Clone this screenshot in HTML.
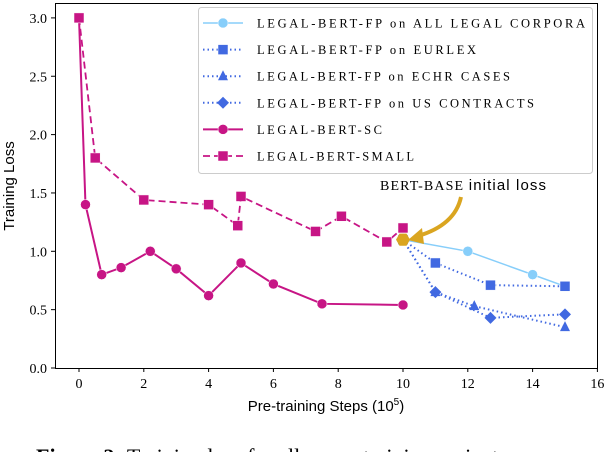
<!DOCTYPE html>
<html><head><meta charset="utf-8"><style>
body{margin:0;background:#fff;width:604px;height:452px;overflow:hidden}
svg text{font-family:"Liberation Serif",serif}
</style></head><body>
<svg id="chart" width="604" height="452" xmlns="http://www.w3.org/2000/svg">
<defs><clipPath id="pc"><rect x="55" y="3" width="543" height="365"/></clipPath></defs>
<g id="marks" clip-path="url(#pc)"></g>
<rect x="55.5" y="3.5" width="542" height="365" fill="none" stroke="#000" stroke-width="1"/>
<g id="axes"></g>
<text transform="translate(14,186) rotate(-90)" text-anchor="middle" font-size="15" style="font-family:'Liberation Sans',sans-serif">Training Loss</text>
<text x="326" y="411" text-anchor="middle" font-size="15" style="font-family:'Liberation Sans',sans-serif">Pre-training Steps (10<tspan font-size="10" dy="-6">5</tspan><tspan dy="6">)</tspan></text>
<g>
<text x="380" y="190" font-size="14" textLength="166" lengthAdjust="spacing">BERT-BASE <tspan style="font-family:'Liberation Sans',sans-serif" font-size="15">initial loss</tspan></text>
<path d="M461,197 Q455,225 418,236" fill="none" stroke="#DAA520" stroke-width="4"/>
<polygon points="408,240 422,228 424,244" fill="#DAA520"/>
</g>
<g id="legend">
<rect x="198.5" y="7.5" width="394" height="166" rx="3" fill="#fff" fill-opacity="0.85" stroke="#ccc"/>
</g>
<text x="36" y="464" font-size="22"><tspan font-weight="bold">Figure 2:</tspan> Training loss for all ... pre-training variants</text>
</svg>
<script>
const xs_sc=[0,0.2,0.7,1.3,2.2,3,4,5,6,7.5,10];
const ys_sc=[3.0,1.4,0.8,0.86,1.0,0.85,0.62,0.9,0.72,0.55,0.54];
const xs_small=[0,0.5,2,4,4.9,5,7.3,8.1,9.5,10];
const ys_small=[3.0,1.8,1.44,1.4,1.22,1.47,1.17,1.3,1.08,1.2];
const xs_all=[10,12,14,15];
const ys_all=[1.1,1.0,0.8,0.7];
const xs_eur=[10,11,12.7,15];
const ys_eur=[1.1,0.9,0.71,0.7];
const xs_echr=[10,11,12.2,15];
const ys_echr=[1.1,0.65,0.53,0.35];
const xs_us=[10,11,12.7,15];
const ys_us=[1.1,0.65,0.43,0.46];
const init_x=[10];
const init_y=[1.1];
const xticks=[0,2,4,6,8,10,12,14,16];
const yticks=[0.0,0.5,1.0,1.5,2.0,2.5,3.0];
const legendLabels=["LEGAL-BERT-FP on ALL LEGAL CORPORA","LEGAL-BERT-FP on EURLEX","LEGAL-BERT-FP on ECHR CASES","LEGAL-BERT-FP on US CONTRACTS","LEGAL-BERT-SC","LEGAL-BERT-SMALL"];
const legendWidths=[328,219,253,277,125,157];

const NS="http://www.w3.org/2000/svg";
const X=v=>79+32.4*v, Y=v=>368-116.7*v;
function el(t,a,p){const e=document.createElementNS(NS,t);for(const k in a)e.setAttribute(k,a[k]);p.appendChild(e);return e;}
function marker(g,type,cx,cy,col,s){
  if(type==='o') return el('circle',{cx,cy,r:s,fill:col,stroke:'#fff','stroke-width':0.5},g);
  if(type==='s') return el('rect',{x:cx-s,y:cy-s,width:2*s,height:2*s,fill:col,stroke:'#fff','stroke-width':0.5},g);
  if(type==='^') return el('polygon',{points:`${cx},${cy-s-1} ${cx-s},${cy+s-1} ${cx+s},${cy+s-1}`,fill:col},g);
  if(type==='D') return el('polygon',{points:`${cx},${cy-s-1} ${cx+s+1},${cy} ${cx},${cy+s+1} ${cx-s-1},${cy}`,fill:col},g);
  if(type==='h'){let p=[];for(let i=0;i<6;i++){const a=Math.PI/3*i;p.push((cx+s*Math.cos(a))+','+(cy+s*Math.sin(a)));}return el('polygon',{points:p.join(' '),fill:col},g);}
}
const series=[
 {name:'series-fp-all',xs:xs_all,ys:ys_all,col:'#87CEFA',dash:'',w:1.5,m:'o',s:5},
 {name:'series-fp-eurlex',xs:xs_eur,ys:ys_eur,col:'#4169E1',dash:'1.5 3',w:2,m:'s',s:5},
 {name:'series-fp-echr',xs:xs_echr,ys:ys_echr,col:'#4169E1',dash:'1.5 3',w:2,m:'^',s:5},
 {name:'series-fp-us',xs:xs_us,ys:ys_us,col:'#4169E1',dash:'1.5 3',w:2,m:'D',s:5},
 {name:'series-sc',xs:xs_sc,ys:ys_sc,col:'#C71585',dash:'',w:2,m:'o',s:5},
 {name:'series-small',xs:xs_small,ys:ys_small,col:'#C71585',dash:'7 4',w:1.8,m:'s',s:5}
];
const marks=document.getElementById('marks');
series.forEach(sr=>{
  const g=el('g',{},marks);
  
  
  el('polyline',{points:sr.xs.map((x,i)=>X(x)+','+Y(sr.ys[i])).join(' '),fill:'none',stroke:sr.col,'stroke-width':sr.w,'stroke-dasharray':sr.dash},g);
  sr.xs.forEach((x,i)=>{const m=marker(g,sr.m,X(x),Y(sr.ys[i]),sr.col,sr.s);
    
    });
});
const ig=el('g',{},marks);


init_x.forEach((x,i)=>marker(ig,'h',X(x),Y(init_y[i]),'#DAA520',7));

const ax=document.getElementById('axes');
xticks.forEach(t=>{
  const g=el('g',{},ax);
  
  
  el('line',{x1:X(t),x2:X(t),y1:368,y2:372,stroke:'#000'},g);
  const tx=el('text',{x:X(t),y:388,'text-anchor':'middle','font-size':14},g);tx.textContent=t;
});
yticks.forEach(t=>{
  const g=el('g',{},ax);
  
  
  el('line',{x1:51,x2:55,y1:Y(t),y2:Y(t),stroke:'#000'},g);
  const tx=el('text',{x:47,y:Y(t)+5,'text-anchor':'end','font-size':14},g);tx.textContent=t.toFixed(1);
});
const lg=document.getElementById('legend');
series.forEach((sr,i)=>{
  const y=23+26.6*i;
  const g=el('g',{},lg);
  
  
  el('line',{x1:203,x2:243,y1:y,y2:y,stroke:sr.col,'stroke-width':sr.w,'stroke-dasharray':sr.dash},g);
  marker(g,sr.m,223,y,sr.col,sr.s);
  const tx=el('text',{x:257,y:y+4.5,'font-size':12.5,textLength:legendWidths[i],lengthAdjust:'spacing'},g);
  tx.textContent=legendLabels[i];
});
</script>
</body></html>
